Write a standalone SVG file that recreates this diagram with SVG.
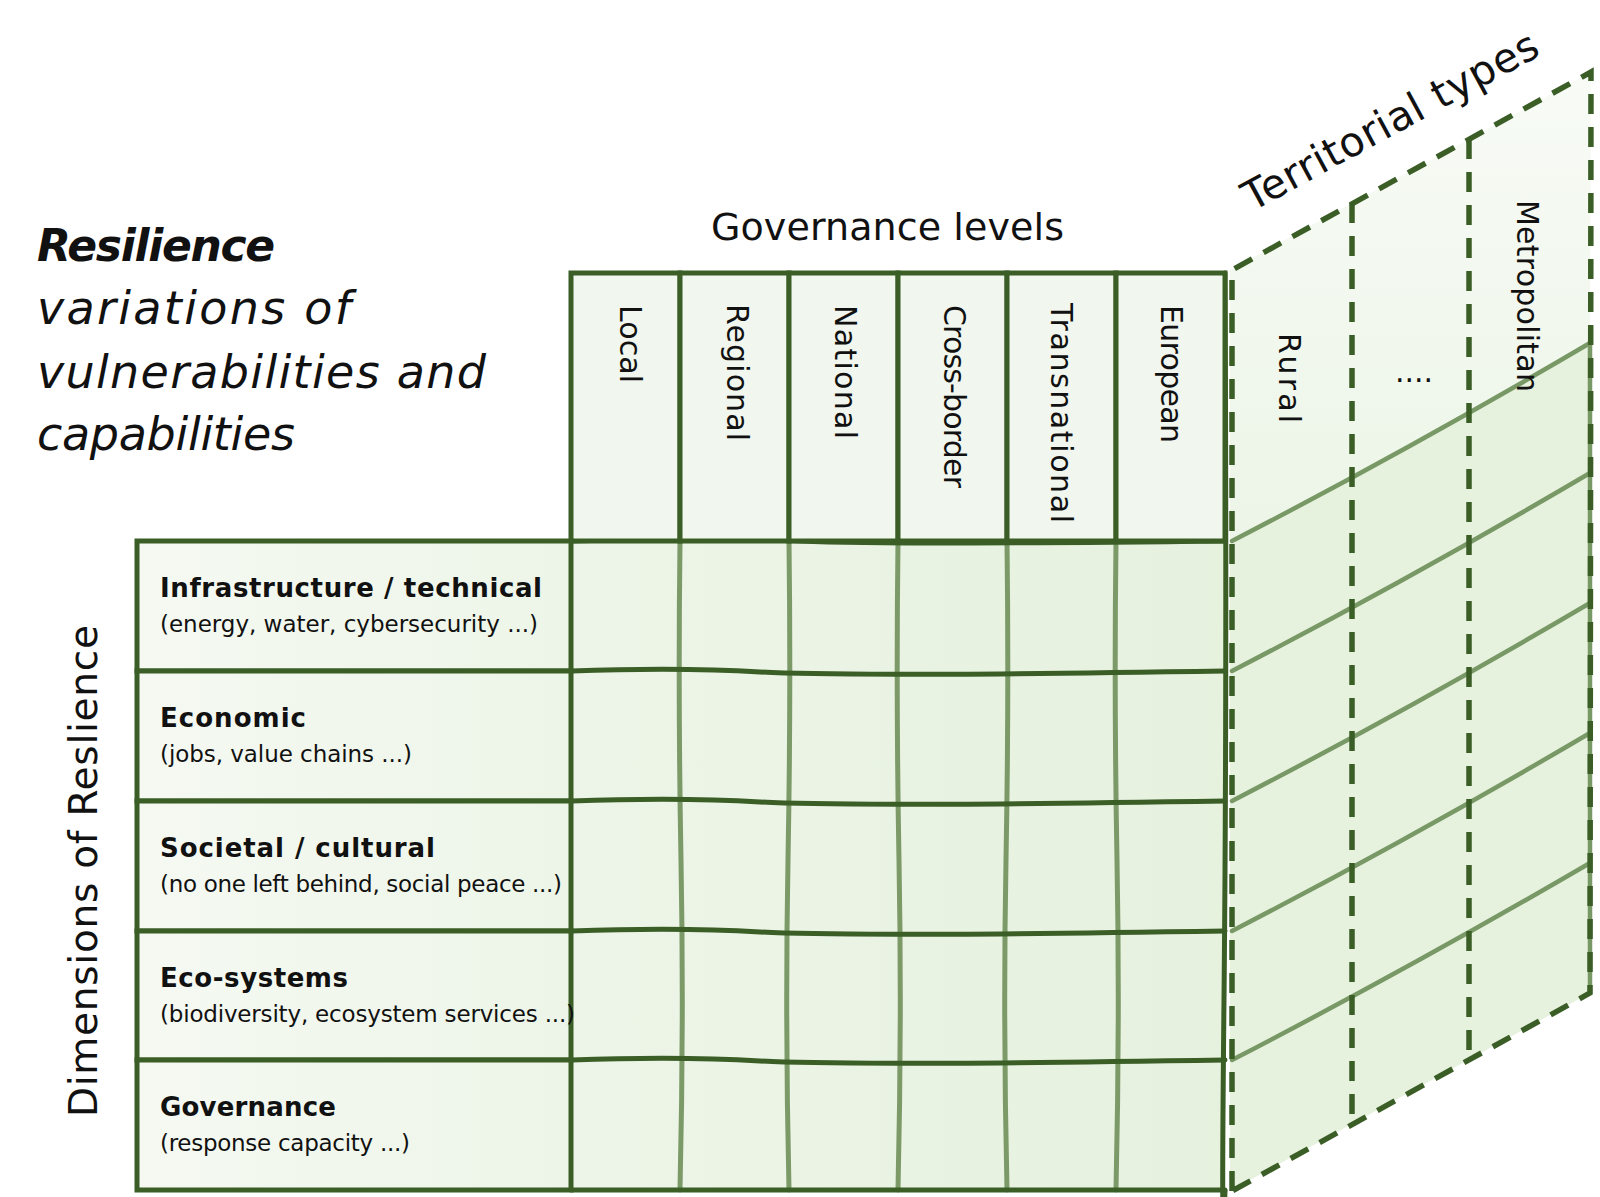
<svg xmlns="http://www.w3.org/2000/svg" width="1600" height="1197" viewBox="0 0 1600 1197">
<defs>
<style>
.t{font-family:"DejaVu Sans","Liberation Sans",sans-serif;fill:#111}
.dk{stroke:#3b5e27;stroke-width:5;fill:none;stroke-linecap:round;stroke-linejoin:round}
.lt{stroke:#7b9a68;stroke-width:5;fill:none;stroke-linecap:round}
.pl{stroke:#789865;stroke-width:4.5;fill:none;stroke-linecap:round}
.ds{stroke:#3b5e27;stroke-width:5.5;fill:none;stroke-dasharray:20 13}
.hdr{fill:#f1f7ee;stroke:#3b5e27;stroke-width:5}
.lab{fill:url(#labg);stroke:#3b5e27;stroke-width:5}
.hd{font-size:30px}
.rt{font-size:26px;font-weight:bold}
.rs{font-size:23px}
</style>
<linearGradient id="labg" x1="0" x2="1" y1="0" y2="0"><stop offset="0" stop-color="#f5f9f2"/><stop offset="1" stop-color="#edf5e8"/></linearGradient>
<linearGradient id="gridg" x1="0" x2="1" y1="0" y2="0"><stop offset="0" stop-color="#edf5e8"/><stop offset="1" stop-color="#e6f1de"/></linearGradient>
<linearGradient id="panh" x1="0" x2="0" y1="0" y2="1"><stop offset="0" stop-color="#f8fbf6"/><stop offset="1" stop-color="#ecf5e7"/></linearGradient>
</defs>
<rect width="1600" height="1197" fill="#ffffff"/>

<g id="title" class="t">
<text x="37" y="261" font-size="44" font-weight="bold" font-style="italic" textLength="238">Resilience</text>
<text x="37" y="324" font-size="46" font-style="italic" textLength="314">variations of</text>
<text x="37" y="388" font-size="46" font-style="italic" textLength="449">vulnerabilities and</text>
<text x="37" y="450" font-size="46" font-style="italic" textLength="258">capabilities</text>
</g>

<g id="governance-title" class="t">
<text x="711" y="240" font-size="38" textLength="353">Governance levels</text>
</g>

<g id="territorial-panel">
<polygon points="1230,541 1590,343 1590,993 1230,1191" fill="#e6f1de"/>
<polygon points="1230,270 1591,72 1590,343 1230,541" fill="url(#panh)"/>
<path class="pl" d="M1232,541 Q1410,449 1590,343"/>
<path class="pl" d="M1232,671 Q1410,579 1590,473"/>
<path class="pl" d="M1232,801 Q1410,709 1590,603"/>
<path class="pl" d="M1232,931 Q1410,839 1590,733"/>
<path class="pl" d="M1232,1060 Q1410,968 1590,863"/>
<line class="pl" x1="1590" y1="343" x2="1590" y2="993"/>
<line class="ds" x1="1352" y1="203" x2="1352" y2="1124"/>
<line class="ds" x1="1469" y1="139" x2="1469" y2="1060"/>
<polyline class="ds" points="1232,1191 1232,270 1591,72 1590,993 1232,1191"/>
<text class="t hd" transform="translate(1289,333) rotate(90)" dominant-baseline="central" textLength="90">Rural</text>
<text class="t hd" x="1395" y="382">....</text>
<text class="t hd" transform="translate(1527,200) rotate(90)" dominant-baseline="central" textLength="192">Metropolitan</text>
<text class="t" transform="translate(1252,212) rotate(-28.5)" font-size="41" textLength="330">Territorial types</text>
</g>

<g id="grid">
<rect x="571" y="541" width="654" height="649" fill="url(#gridg)"/>
<g class="lt">
<path d="M680,541 Q678,700 681,860 T680,1190"/>
<path d="M789,541 Q791,700 788,860 T789,1190"/>
<path d="M898,541 Q896,700 899,860 T898,1190"/>
<path d="M1007,541 Q1009,700 1006,860 T1007,1190"/>
<path d="M1116,541 Q1114,700 1117,860 T1116,1190"/>
</g>
<g class="dk">
<path d="M571,541 Q700,537 800,541 T1225,541"/>
<path d="M571,671 Q680,667 760,672 T1225,671"/>
<path d="M571,801 Q680,797 760,802 T1225,801"/>
<path d="M571,931 Q680,927 760,932 T1225,931"/>
<path d="M571,1060 Q680,1056 760,1061 T1225,1060"/>
<path d="M571,1190 L1225,1190"/>
<path d="M1225,273 Q1227,700 1224,1000 T1225,1191"/>
</g>
</g>

<g id="governance-levels">
<g id="col-local"><rect class="hdr" x="571" y="273" width="109" height="268"/><text class="t hd" transform="translate(630,305) rotate(90)" dominant-baseline="central" textLength="78">Local</text></g>
<g id="col-regional"><rect class="hdr" x="680" y="273" width="109" height="268"/><text class="t hd" transform="translate(737,304) rotate(90)" dominant-baseline="central" textLength="137">Regional</text></g>
<g id="col-national"><rect class="hdr" x="789" y="273" width="109" height="268"/><text class="t hd" transform="translate(845,305) rotate(90)" dominant-baseline="central" textLength="134">National</text></g>
<g id="col-crossborder"><rect class="hdr" x="898" y="273" width="109" height="268"/><text class="t hd" transform="translate(954,305) rotate(90)" dominant-baseline="central" textLength="183">Cross-border</text></g>
<g id="col-transnational"><rect class="hdr" x="1007" y="273" width="109" height="268"/><text class="t hd" transform="translate(1061,303) rotate(90)" dominant-baseline="central" textLength="220">Transnational</text></g>
<g id="col-european"><rect class="hdr" x="1116" y="273" width="109" height="268"/><text class="t hd" transform="translate(1171,305) rotate(90)" dominant-baseline="central" textLength="138">European</text></g>
</g>

<g id="dimensions">
<g id="row-infrastructure"><rect class="lab" x="137" y="541" width="434" height="130"/>
<text class="t rt" x="160" y="597" textLength="382">Infrastructure / technical</text>
<text class="t rs" x="160" y="632" textLength="378">(energy, water, cybersecurity ...)</text></g>
<g id="row-economic"><rect class="lab" x="137" y="671" width="434" height="130"/>
<text class="t rt" x="160" y="727" textLength="146">Economic</text>
<text class="t rs" x="160" y="762" textLength="252">(jobs, value chains ...)</text></g>
<g id="row-societal"><rect class="lab" x="137" y="801" width="434" height="130"/>
<text class="t rt" x="160" y="857" textLength="275">Societal / cultural</text>
<text class="t rs" x="160" y="892" textLength="402">(no one left behind, social peace ...)</text></g>
<g id="row-ecosystems"><rect class="lab" x="137" y="931" width="434" height="129"/>
<text class="t rt" x="160" y="987" textLength="188">Eco-systems</text>
<text class="t rs" x="160" y="1022" textLength="415">(biodiversity, ecosystem services ...)</text></g>
<g id="row-governance"><rect class="lab" x="137" y="1060" width="434" height="130"/>
<text class="t rt" x="160" y="1116" textLength="176">Governance</text>
<text class="t rs" x="160" y="1151" textLength="250">(response capacity ...)</text></g>
<text class="t" transform="translate(83,1117) rotate(-90)" font-size="39" dominant-baseline="central" textLength="492">Dimensions of Reslience</text>
</g>

<g id="connectors"></g>
</svg>
